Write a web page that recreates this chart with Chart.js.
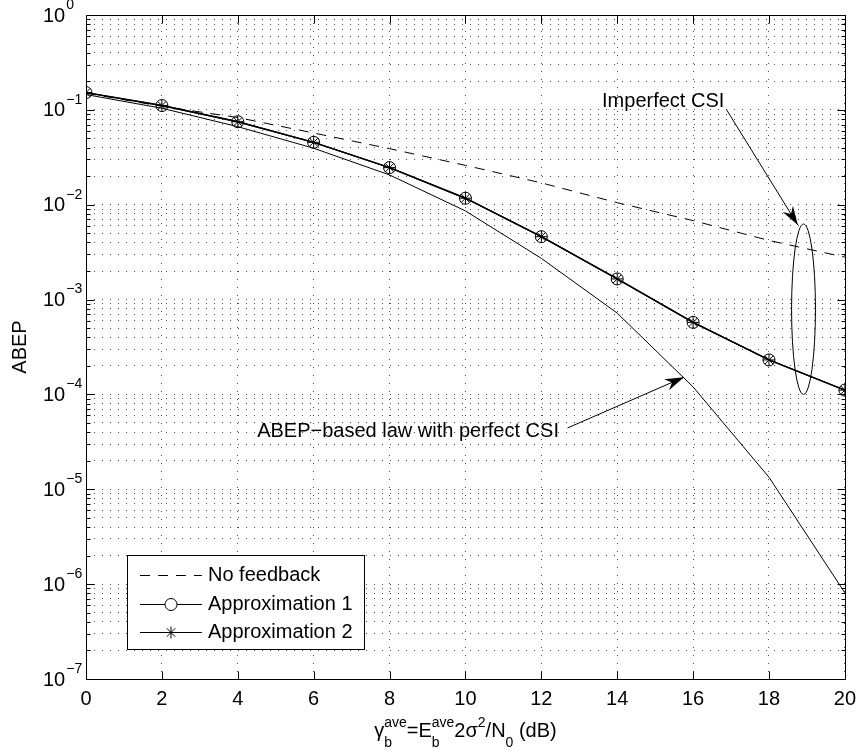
<!DOCTYPE html>
<html>
<head>
<meta charset="utf-8">
<script src="https://cdn.jsdelivr.net/npm/chart.js@4.4.0/dist/chart.umd.min.js"></script>
<style>
    html, body { margin: 0; padding: 0; background: #fff; }
    #wrap { width: 864px; height: 755px; position: relative; }
</style>
</head>
<body>
<div id="wrap"><canvas id="abepChart"></canvas></div>
<script>
// values
const snrDb = [0, 2, 4, 6, 8, 10, 12, 14, 16, 18, 20];
const noFeedback = [0.150, 0.109, 0.083, 0.057, 0.039, 0.026, 0.017, 0.0105, 0.0068, 0.0042, 0.0028];
const approximation1 = [0.152, 0.111, 0.075, 0.0455, 0.0246, 0.0117, 0.0046, 0.00165, 0.000575, 0.000231, 0.000111];
const approximation2 = [0.152, 0.111, 0.075, 0.0455, 0.0246, 0.0117, 0.0046, 0.00165, 0.000575, 0.000231, 0.000111];
const perfectCsi = [0.145, 0.104, 0.0665, 0.0394, 0.0206, 0.0086, 0.00272, 0.00072, 0.00012, 0.0000134, 0.00000081];
const xTicks = [0, 2, 4, 6, 8, 10, 12, 14, 16, 18, 20];
const yExponents = [-7, -6, -5, -4, -3, -2, -1, 0];

const fontFamily = '"Liberation Sans", Arial, Helvetica, sans-serif';
const ink = "#000";
const gridInk = "rgba(0, 0, 0, 0.7)";

// annotations, in data coordinates
const annotationTexts = [
    { text: "Imperfect CSI", x: 13.6, y: 0.107 },
    { text: "ABEP\u2212based law with perfect CSI", x: 4.51, y: 3.56e-5 }
];
const annotationArrows = [
    { fromX: 16.88, fromY: 0.1005, toX: 18.76, toY: 0.00611 },
    { fromX: 12.69, fromY: 4.43e-5, toX: 15.76, toY: 1.52e-4 }
];
const ellipseMark = { x: 18.91, halfWidth: 0.315, top: 6.26e-3, bottom: 1.0e-4 };

const yTickValues = [];
yExponents.forEach((exponent) => {
    const decade = Math.pow(10, exponent);
    if (exponent === 0) {
        yTickValues.push(1);
        return;
    }
    for (let k = 1; k <= 9; k++) {
        yTickValues.push(Number((k * decade).toPrecision(3)));
    }
});

function toPoints(values) {
    return snrDb.map((x, i) => ({ x, y: values[i] }));
}

function isDecade(value) {
    const lg = Math.log10(value);
    return Math.abs(lg - Math.round(lg)) < 1e-6;
}

function strokeLine(ctx, x1, y1, x2, y2) {
    ctx.beginPath();
    ctx.moveTo(x1, y1);
    ctx.lineTo(x2, y2);
    ctx.stroke();
}

function drawArrow(ctx, x1, y1, x2, y2) {
    const angle = Math.atan2(y2 - y1, x2 - x1);
    strokeLine(ctx, x1, y1, x2, y2);
    ctx.save();
    ctx.translate(x2, y2);
    ctx.rotate(angle);
    ctx.beginPath();
    ctx.moveTo(0, 0);
    ctx.lineTo(-19, -6);
    ctx.lineTo(-13, 0);
    ctx.lineTo(-19, 6);
    ctx.closePath();
    ctx.fill();
    ctx.restore();
}

function drawPowerLabel(ctx, left, centreY, exponent) {
    ctx.font = "20px " + fontFamily;
    ctx.textAlign = "left";
    ctx.textBaseline = "middle";
    ctx.fillText("10", left, centreY);
    const baseWidth = ctx.measureText("10").width;
    ctx.font = "14px " + fontFamily;
    const expText = exponent < 0 ? "\u2212" + Math.abs(exponent) : String(exponent);
    ctx.fillText(expText, left + baseWidth + 1, centreY - 11);
}

function drawXAxisTitle(ctx, centreX, baseline) {
    const parts = [
        { text: "\u03b3", sub: "b", sup: "ave" },
        { text: "=E", sub: "b", sup: "ave" },
        { text: "2\u03c3", sup: "2" },
        { text: "/N", sub: "0" },
        { text: " (dB)" }
    ];
    const mainFont = "20px " + fontFamily;
    const smallFont = "14px " + fontFamily;

    const widths = parts.map((part) => {
        ctx.font = mainFont;
        const main = ctx.measureText(part.text).width;
        ctx.font = smallFont;
        const sub = part.sub ? ctx.measureText(part.sub).width : 0;
        const sup = part.sup ? ctx.measureText(part.sup).width : 0;
        return { main, script: Math.max(sub, sup) };
    });
    const total = widths.reduce((sum, w) => sum + w.main + w.script, 0);

    let x = centreX - total / 2;
    ctx.textAlign = "left";
    ctx.textBaseline = "alphabetic";
    parts.forEach((part, i) => {
        ctx.font = mainFont;
        ctx.fillText(part.text, x, baseline);
        x += widths[i].main;
        ctx.font = smallFont;
        if (part.sup) {
            ctx.fillText(part.sup, x, baseline - 10);
        }
        if (part.sub) {
            ctx.fillText(part.sub, x, baseline + 10);
        }
        x += widths[i].script;
    });
}

function drawLegend(chart) {
    const { ctx, chartArea: area } = chart;
    const box = { left: area.left + 41, width: 237, height: 94 };
    box.top = area.bottom - 30 - box.height;

    ctx.fillStyle = "#fff";
    ctx.fillRect(Math.round(box.left), Math.round(box.top), box.width, box.height);
    ctx.strokeStyle = ink;
    ctx.lineWidth = 1;
    ctx.strokeRect(Math.round(box.left) + 0.5, Math.round(box.top) + 0.5, box.width, box.height);

    const entries = chart.data.datasets.filter((dataset) => dataset.inLegend);
    entries.forEach((dataset, i) => {
        const rowY = Math.round(box.top + 20 + i * 28.5) + 0.5;
        const x1 = box.left + 13;
        const x2 = box.left + 75;

        ctx.save();
        ctx.strokeStyle = ink;
        ctx.lineWidth = 1;
        ctx.setLineDash(dataset.borderDash || []);
        strokeLine(ctx, x1, rowY, x2, rowY);
        ctx.restore();

        if (dataset.pointRadius) {
            ctx.save();
            ctx.strokeStyle = ink;
            ctx.fillStyle = "#fff";
            ctx.lineWidth = 1;
            Chart.helpers.drawPoint(ctx, {
                pointStyle: dataset.pointStyle,
                radius: dataset.pointRadius,
                rotation: 0,
                borderWidth: 1
            }, (x1 + x2) / 2, rowY);
            ctx.restore();
        }

        ctx.fillStyle = ink;
        ctx.font = "20px " + fontFamily;
        ctx.textAlign = "left";
        ctx.textBaseline = "middle";
        ctx.fillText(dataset.label, x2 + 6, rowY);
    });
}

const matlabFrame = {
    id: "matlabFrame",
    afterDraw(chart) {
        const { ctx, chartArea: area, scales } = chart;
        const xScale = scales.x;
        const yScale = scales.y;
        const left = Math.round(area.left) + 0.5;
        const right = Math.round(area.right) + 0.5;
        const top = Math.round(area.top) + 0.5;
        const bottom = Math.round(area.bottom) + 0.5;

        ctx.save();
        ctx.strokeStyle = ink;
        ctx.fillStyle = ink;
        ctx.lineWidth = 1;

        // annotations
        annotationArrows.forEach((arrow) => {
            drawArrow(ctx,
                xScale.getPixelForValue(arrow.fromX), yScale.getPixelForValue(arrow.fromY),
                xScale.getPixelForValue(arrow.toX), yScale.getPixelForValue(arrow.toY));
        });
        const ellipseTop = yScale.getPixelForValue(ellipseMark.top);
        const ellipseBottom = yScale.getPixelForValue(ellipseMark.bottom);
        const ellipseX = xScale.getPixelForValue(ellipseMark.x);
        const ellipseRx = xScale.getPixelForValue(ellipseMark.x + ellipseMark.halfWidth) - ellipseX;
        ctx.beginPath();
        ctx.ellipse(ellipseX, (ellipseTop + ellipseBottom) / 2, ellipseRx, (ellipseBottom - ellipseTop) / 2, 0, 0, Math.PI * 2);
        ctx.stroke();

        ctx.font = "20px " + fontFamily;
        ctx.textAlign = "left";
        ctx.textBaseline = "alphabetic";
        annotationTexts.forEach((note) => {
            ctx.fillText(note.text, xScale.getPixelForValue(note.x), yScale.getPixelForValue(note.y));
        });

        // box and inward ticks
        ctx.strokeRect(left, top, right - left, bottom - top);
        yTickValues.forEach((value) => {
            const py = Math.round(yScale.getPixelForValue(value)) + 0.5;
            const len = isDecade(value) ? 8 : 4;
            strokeLine(ctx, left, py, left + len, py);
            strokeLine(ctx, right - len, py, right, py);
        });
        xTicks.forEach((value) => {
            const px = Math.round(xScale.getPixelForValue(value)) + 0.5;
            strokeLine(ctx, px, bottom, px, bottom - 8);
            strokeLine(ctx, px, top, px, top + 8);
        });

        // y tick labels with superscript exponents
        yExponents.forEach((exponent) => {
            drawPowerLabel(ctx, 43, yScale.getPixelForValue(Math.pow(10, exponent)) + 1, exponent);
        });

        // axis titles
        ctx.save();
        ctx.translate(20, (area.top + area.bottom) / 2);
        ctx.rotate(-Math.PI / 2);
        ctx.font = "20px " + fontFamily;
        ctx.textAlign = "center";
        ctx.textBaseline = "middle";
        ctx.fillText("ABEP", 0, 0);
        ctx.restore();

        drawXAxisTitle(ctx, (area.left + area.right) / 2, 737);

        drawLegend(chart);
        ctx.restore();
    }
};

const whiteBackground = {
    id: "whiteBackground",
    beforeDraw(chart) {
        const { ctx, width, height } = chart;
        ctx.save();
        ctx.fillStyle = "#fff";
        ctx.fillRect(0, 0, width, height);
        ctx.restore();
    }
};

new Chart(document.getElementById("abepChart"), {
    type: "line",
    data: {
        datasets: [
            {
                label: "ABEP-based law with perfect CSI",
                data: toPoints(perfectCsi),
                borderColor: ink,
                borderWidth: 1,
                pointRadius: 0,
                inLegend: false
            },
            {
                label: "No feedback",
                data: toPoints(noFeedback),
                borderColor: ink,
                borderWidth: 1,
                borderDash: [10, 8],
                pointRadius: 0,
                inLegend: true
            },
            {
                label: "Approximation 1",
                data: toPoints(approximation1),
                borderColor: ink,
                borderWidth: 1.4,
                pointStyle: "circle",
                pointRadius: 6,
                pointBorderWidth: 1,
                pointBorderColor: ink,
                pointBackgroundColor: "rgba(0, 0, 0, 0)",
                inLegend: true
            },
            {
                label: "Approximation 2",
                data: toPoints(approximation2),
                borderColor: ink,
                borderWidth: 1.4,
                pointStyle: "star",
                pointRadius: 6,
                pointBorderWidth: 1,
                pointBorderColor: ink,
                pointBackgroundColor: "rgba(0, 0, 0, 0)",
                inLegend: true
            }
        ]
    },
    options: {
        responsive: true,
        maintainAspectRatio: false,
        animation: false,
        events: [],
        layout: { padding: { top: 15, right: 15, left: 0, bottom: 0 } },
        plugins: {
            legend: { display: false },
            tooltip: { enabled: false }
        },
        scales: {
            x: {
                type: "linear",
                min: 0,
                max: 20,
                afterBuildTicks: (scale) => {
                    scale.ticks = xTicks.map((value) => ({ value }));
                },
                afterFit: (scale) => {
                    scale.height = 76;
                },
                // grid line dash comes from border.dash in Chart.js v4
                border: { display: false, dash: [1, 7] },
                grid: {
                    color: gridInk,
                    lineWidth: 1,
                    drawTicks: false
                },
                ticks: {
                    color: ink,
                    padding: 8,
                    maxRotation: 0,
                    font: { family: fontFamily, size: 20 }
                }
            },
            y: {
                type: "logarithmic",
                min: 1e-7,
                max: 1,
                afterBuildTicks: (scale) => {
                    scale.ticks = yTickValues.map((value) => ({ value }));
                },
                afterFit: (scale) => {
                    scale.width = 86;
                },
                border: { display: false, dash: [1, 7] },
                grid: {
                    color: gridInk,
                    lineWidth: 1,
                    drawTicks: false
                },
                ticks: { display: false }
            }
        }
    },
    plugins: [whiteBackground, matlabFrame]
});
</script>
</body>
</html>
